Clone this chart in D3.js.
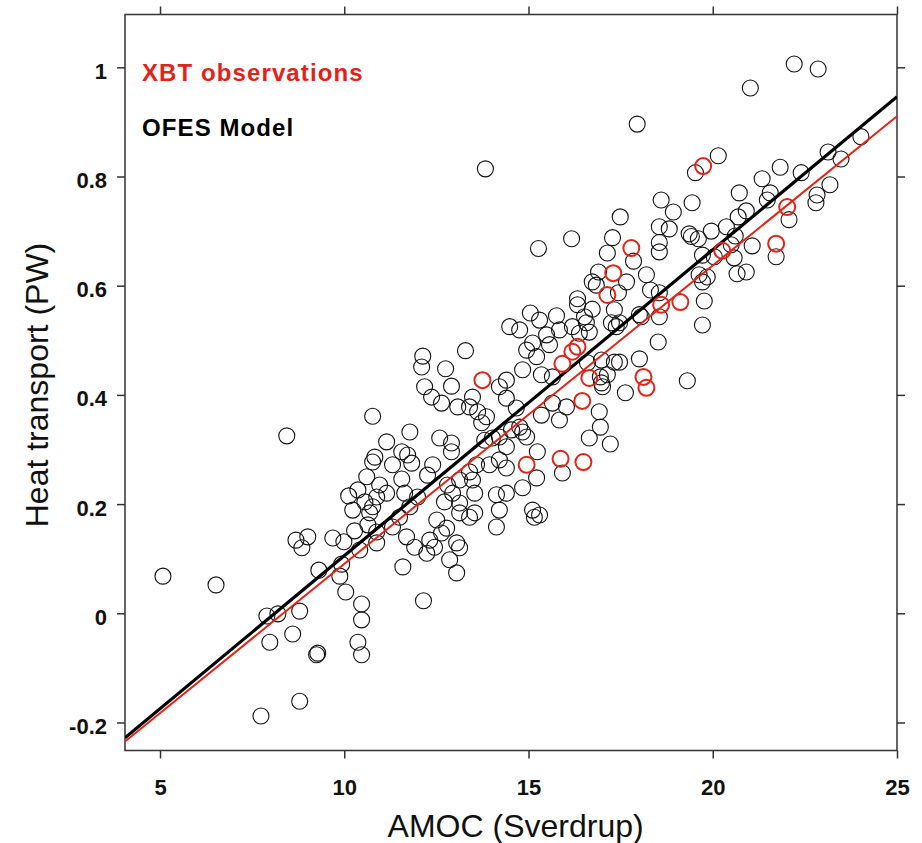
<!DOCTYPE html>
<html>
<head>
<meta charset="utf-8">
<script src="https://cdn.jsdelivr.net/npm/d3@7"></script>
<style>
  body { margin: 0; background: #fff; }
  text { font-family: "Liberation Sans", Arial, Helvetica, sans-serif; }
</style>
</head>
<body>
<div id="chart"></div>
<script>
// XBT observations (red circles)
var xbtAmoc = [19.74, 17.79, 17.30, 17.14, 22.02, 21.72, 20.26, 18.60, 19.12, 16.33,
  16.19, 15.92, 16.65, 16.46, 18.12, 18.20, 13.75, 14.95, 15.87, 16.49];
var xbtHeat = [0.819, 0.669, 0.623, 0.583, 0.744, 0.677, 0.664, 0.565, 0.570, 0.488,
  0.479, 0.457, 0.431, 0.389, 0.433, 0.413, 0.427, 0.272, 0.283, 0.277];

// OFES model (black circles)
var ofesAmoc = [
  5.08, 6.52, 8.44, 7.74, 8.79, 7.90, 8.20, 8.79, 7.98, 8.60,
  9.25, 9.28, 8.69, 9.01, 8.85, 9.69, 9.99, 10.12, 10.23, 10.37,
  10.61, 10.77, 10.56, 10.77, 10.28, 10.64, 10.42, 10.88, 9.31, 9.93,
  9.88, 10.04, 10.47, 10.47, 10.37, 10.47, 10.77, 11.15, 10.83, 11.78,
  11.56, 11.72, 11.31, 11.83, 11.56, 10.96, 10.88, 11.15, 10.69, 10.88,
  11.64, 11.99, 11.78, 11.50, 11.31, 11.69, 11.91, 12.24, 11.59, 12.13,
  12.10, 12.75, 12.91, 12.18, 12.37, 12.64, 13.08, 13.29, 13.48, 13.40,
  13.62, 13.86, 13.73, 12.59, 12.91, 12.91, 12.40, 12.26, 12.80, 13.13,
  13.59, 13.40, 13.48, 13.81, 14.02, 14.21, 14.40, 14.54, 14.76, 14.84,
  14.95, 14.21, 13.94, 14.40, 15.24, 15.92, 15.22, 14.84, 14.13, 14.40,
  14.21, 15.11, 15.16, 15.30, 14.13, 12.94, 12.72, 13.13, 13.54, 13.54,
  13.40, 13.13, 12.51, 12.64, 12.78, 12.32, 12.45, 13.05, 13.13, 12.86,
  13.05, 14.40, 14.21, 14.40, 14.67, 15.65, 15.35, 16.03, 15.84, 16.92,
  16.95, 16.65, 17.22, 14.95, 15.22, 14.84, 15.35, 15.65, 15.57, 16.60,
  16.98, 17.33, 17.01, 15.05, 15.30, 15.76, 14.49, 14.76, 15.11, 15.49,
  15.84, 16.19, 16.57, 16.65, 16.38, 17.25, 16.84, 16.33, 16.73, 20.15,
  19.53, 21.83, 23.13, 21.34, 22.40, 23.18, 22.83, 22.80, 20.72, 21.56,
  21.48, 18.60, 18.93, 19.44, 17.49, 22.07, 20.69, 20.91, 18.55, 18.82,
  19.36, 19.96, 20.37, 20.61, 16.17, 17.28, 17.14, 18.55, 18.55, 17.85,
  19.42, 19.61, 20.04, 20.50, 19.72, 20.58, 21.07, 21.72, 20.91, 20.66,
  16.90, 17.66, 16.73, 18.20, 18.31, 18.55, 19.63, 19.85, 19.72, 17.44,
  16.52, 17.33, 17.47, 18.06, 19.77, 19.72, 18.55, 18.52, 17.47, 18.01,
  16.95, 17.63, 19.31, 21.02, 17.95, 22.21, 22.86, 23.48, 24.02, 15.27,
  16.33, 18.01, 17.38, 17.14, 16.98, 13.83, 12.15
];
var ofesHeat = [
  0.068, 0.052, 0.325, -0.188, -0.161, -0.005, -0.001, 0.004, -0.053, -0.038,
  -0.076, -0.073, 0.134, 0.140, 0.120, 0.138, 0.131, 0.215, 0.189, 0.226,
  0.250, 0.277, 0.204, 0.195, 0.151, 0.162, 0.116, 0.129, 0.079, 0.090,
  0.068, 0.039, 0.017, -0.012, -0.053, -0.076, 0.361, 0.314, 0.286, 0.332,
  0.296, 0.290, 0.272, 0.275, 0.246, 0.235, 0.213, 0.220, 0.184, 0.149,
  0.220, 0.213, 0.195, 0.176, 0.158, 0.140, 0.121, 0.110, 0.085, 0.471,
  0.451, 0.448, 0.416, 0.415, 0.396, 0.385, 0.378, 0.481, 0.396, 0.378,
  0.369, 0.360, 0.349, 0.321, 0.312, 0.296, 0.272, 0.253, 0.235, 0.244,
  0.272, 0.259, 0.244, 0.317, 0.321, 0.323, 0.305, 0.336, 0.341, 0.332,
  0.323, 0.281, 0.272, 0.266, 0.296, 0.257, 0.248, 0.230, 0.217, 0.220,
  0.189, 0.189, 0.176, 0.180, 0.158, 0.220, 0.204, 0.202, 0.220, 0.184,
  0.176, 0.184, 0.171, 0.147, 0.156, 0.134, 0.121, 0.129, 0.120, 0.098,
  0.074, 0.427, 0.415, 0.394, 0.376, 0.385, 0.363, 0.378, 0.354, 0.369,
  0.341, 0.321, 0.310, 0.482, 0.470, 0.446, 0.437, 0.433, 0.492, 0.459,
  0.464, 0.460, 0.415, 0.550, 0.537, 0.545, 0.525, 0.519, 0.495, 0.510,
  0.519, 0.525, 0.532, 0.515, 0.513, 0.532, 0.601, 0.565, 0.557, 0.838,
  0.807, 0.817, 0.845, 0.796, 0.807, 0.785, 0.766, 0.752, 0.770, 0.770,
  0.757, 0.757, 0.735, 0.752, 0.726, 0.721, 0.726, 0.737, 0.708, 0.704,
  0.695, 0.700, 0.708, 0.691, 0.686, 0.688, 0.660, 0.679, 0.662, 0.645,
  0.690, 0.686, 0.653, 0.675, 0.656, 0.651, 0.673, 0.653, 0.625, 0.622,
  0.625, 0.607, 0.607, 0.620, 0.592, 0.587, 0.620, 0.616, 0.607, 0.587,
  0.543, 0.556, 0.532, 0.543, 0.572, 0.528, 0.543, 0.497, 0.460, 0.466,
  0.433, 0.404, 0.426, 0.962, 0.896, 1.006, 0.997, 0.832, 0.873, 0.668,
  0.576, 0.547, 0.525, 0.437, 0.422, 0.814, 0.023
];

// least squares fits, heat = intercept + slope * amoc
var fitNames = ["OFES Model", "XBT observations"];
var fitSlopes = [0.05604, 0.05465];
var fitIntercepts = [-0.455, -0.456];

var xTicks = [5, 10, 15, 20, 25];
var yTicks = [-0.2, 0, 0.2, 0.4, 0.6, 0.8, 1];

var red = "#e2231a";

// set the dimensions and margins of the graph
var margin = { top: 14.5, right: 25, bottom: 92.5, left: 125 },
  width = 922 - margin.left - margin.right,
  height = 843 - margin.top - margin.bottom;

var svg = d3.select("#chart")
  .append("svg")
  .attr("width", width + margin.left + margin.right)
  .attr("height", height + margin.top + margin.bottom)
  .append("g")
  .attr("transform", "translate(" + margin.left + "," + margin.top + ")");

var x = d3.scaleLinear()
  .domain([4.05, 25])
  .range([0, width]);
var y = d3.scaleLinear()
  .domain([-0.2513, 1.0967])
  .range([height, 0]);

svg.append("clipPath")
  .attr("id", "plotClip")
  .append("rect")
  .attr("width", width)
  .attr("height", height);

var yFmt = function (d) { return String(+d.toFixed(1)); };

// axes, ticks pointing outwards on all four sides
var xAxis = svg.append("g")
  .attr("transform", "translate(0," + height + ")")
  .call(d3.axisBottom(x).tickValues(xTicks).tickSize(8).tickSizeOuter(0));
xAxis.selectAll("text")
  .attr("y", 44.5)
  .attr("dy", null);

var yAxis = svg.append("g")
  .call(d3.axisLeft(y).tickValues(yTicks).tickSize(8).tickSizeOuter(0).tickPadding(10).tickFormat(yFmt));
yAxis.selectAll("text")
  .attr("dy", "0.5em");

svg.append("g")
  .call(d3.axisTop(x).tickValues(xTicks).tickSize(8).tickSizeOuter(0).tickFormat(""));
svg.append("g")
  .attr("transform", "translate(" + width + ",0)")
  .call(d3.axisRight(y).tickValues(yTicks).tickSize(8).tickSizeOuter(0).tickFormat(""));

svg.selectAll(".domain").remove();
svg.selectAll(".tick line")
  .attr("stroke", "#333")
  .attr("stroke-width", 1.5);
svg.selectAll(".tick text")
  .attr("fill", "#111")
  .style("font-size", "22px")
  .style("font-weight", "bold");

svg.append("rect")
  .attr("width", width)
  .attr("height", height)
  .attr("fill", "none")
  .attr("stroke", "#333")
  .attr("stroke-width", 1.5);

// model points
var plot = svg.append("g").attr("clip-path", "url(#plotClip)");
plot.selectAll("circle.ofes")
  .data(d3.range(ofesAmoc.length))
  .enter()
  .append("circle")
  .attr("class", "ofes")
  .attr("cx", function (i) { return x(ofesAmoc[i]); })
  .attr("cy", function (i) { return y(ofesHeat[i]); })
  .attr("r", 8)
  .attr("fill", "none")
  .attr("stroke", "#111")
  .attr("stroke-width", 1.1);

// regression lines
var xs = x.domain();
plot.selectAll("line.fit")
  .data(fitNames)
  .enter()
  .append("line")
  .attr("class", "fit")
  .attr("x1", x(xs[0]))
  .attr("x2", x(xs[1]))
  .attr("y1", function (d, i) { return y(fitIntercepts[i] + fitSlopes[i] * xs[0]); })
  .attr("y2", function (d, i) { return y(fitIntercepts[i] + fitSlopes[i] * xs[1]); })
  .attr("stroke", function (d, i) { return i == 0 ? "#000" : red; })
  .attr("stroke-width", function (d, i) { return i == 0 ? 3.2 : 2; });

// observation points
plot.selectAll("circle.xbt")
  .data(d3.range(xbtAmoc.length))
  .enter()
  .append("circle")
  .attr("class", "xbt")
  .attr("cx", function (i) { return x(xbtAmoc[i]); })
  .attr("cy", function (i) { return y(xbtHeat[i]); })
  .attr("r", 8)
  .attr("fill", "none")
  .attr("stroke", red)
  .attr("stroke-width", 2);

// legend text
svg.append("text")
  .attr("x", 17)
  .attr("y", 66.2)
  .attr("fill", red)
  .style("font-size", "24px")
  .style("font-weight", "bold")
  .style("letter-spacing", "1.1px")
  .text(fitNames[1]);
svg.append("text")
  .attr("x", 17)
  .attr("y", 121.5)
  .attr("fill", "#000")
  .style("font-size", "24px")
  .style("font-weight", "bold")
  .style("letter-spacing", "1.1px")
  .text(fitNames[0]);

// axis titles
svg.append("text")
  .attr("x", x(14.65))
  .attr("y", height + 86.5)
  .attr("text-anchor", "middle")
  .attr("fill", "#111")
  .style("font-size", "32px")
  .text("AMOC (Sverdrup)");
svg.append("text")
  .attr("transform", "translate(-77," + (385 - margin.top) + ")rotate(-90)")
  .attr("text-anchor", "middle")
  .attr("fill", "#111")
  .style("font-size", "32px")
  .text("Heat transport (PW)");
</script>
</body>
</html>
